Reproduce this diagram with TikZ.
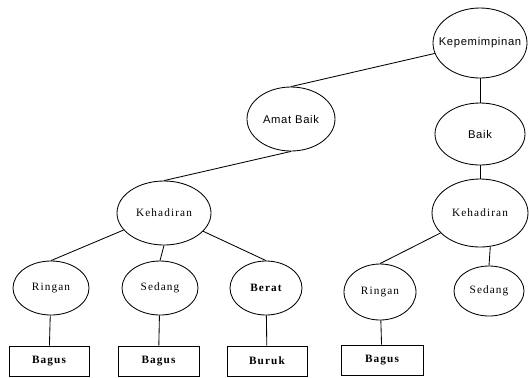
\documentclass[tikz,border=0pt]{standalone}
\usepackage{fontspec}
\setmainfont[LetterSpace=10]{Liberation Serif}
\newfontfamily\sanslabel[LetterSpace=6]{Liberation Sans}
\usetikzlibrary{shapes.geometric}

\begin{document}
\begin{tikzpicture}[font=\fontsize{8}{9}\selectfont]
\useasboundingbox (0, 0) rectangle (13.225, -9.425);
\begin{scope}[every node/.style={semithick,inner xsep=-0.3cm,inner ysep=0pt}]
    \node (1) at (12.0, -1.075) [shape=ellipse,draw=black,minimum width=2.35cm,minimum height=1.75cm] {\sanslabel Kepemimpinan};

    \node (2) at (7.275, -2.975) [shape=ellipse,draw=black,minimum width=2.2cm,minimum height=1.6cm] {\sanslabel Amat Baik};
    \node (3) at (12.0, -3.35) [shape=ellipse,draw=black,minimum width=2.25cm,minimum height=1.55cm] {\sanslabel Baik};

    \node (4) at (4.1, -5.325) [shape=ellipse,draw=black,minimum width=2.35cm,minimum height=1.6cm] {Kehadiran};
    \node (5) at (12.0, -5.325) [shape=ellipse,draw=black,minimum width=2.4cm,minimum height=1.7cm] {Kehadiran};

    \node (6) at (1.275, -7.2) [shape=ellipse,draw=black,minimum width=1.9cm,minimum height=1.35cm] {Ringan};
    \node (7) at (4.0, -7.2) [shape=ellipse,draw=black,minimum width=1.9cm,minimum height=1.35cm] {Sedang};
    \node (8) at (6.65, -7.2) [shape=ellipse,draw=black,minimum width=1.8cm,minimum height=1.35cm] {\bfseries Berat};

    \node (9) at (9.5, -7.3) [shape=ellipse,draw=black,minimum width=1.8cm,minimum height=1.4cm] {Ringan};
    \node (10) at (12.225, -7.275) [shape=ellipse,draw=black,minimum width=1.75cm,minimum height=1.25cm] {Sedang};

    \node (bagus1) at (1.225, -9.025) [shape=rectangle,draw=black,minimum width=2.0cm,minimum height=0.75cm] {\bfseries Bagus};
    \node (bagus2) at (3.9625, -9.025) [shape=rectangle,draw=black,minimum width=2.025cm,minimum height=0.75cm] {\bfseries Bagus};
    \node (buruk) at (6.675, -9.025) [shape=rectangle,draw=black,minimum width=2.0cm,minimum height=0.75cm] {\bfseries Buruk};
    \node (bagus3) at (9.55, -9.0) [shape=rectangle,draw=black,minimum width=2.05cm,minimum height=0.75cm] {\bfseries Bagus};
\end{scope}

\begin{scope}[every edge/.style={draw=black,semithick}]
    \path (1) edge (2.north);
    \path (1.south) edge (3.north);

    \path (2.south) edge (4.north);
    \path (3.south) edge (5.north);

    \path (4) edge (6.north);
    \path (4.south) edge (7.north);
    \path (4) edge (8.north);

    \path (5) edge (9.north);
    \path (5.-73) edge (10.north);

    \path (6) edge (bagus1);
    \path (7) edge (bagus2);
    \path (8) edge (buruk);
    \path (9) edge (bagus3);
\end{scope}
\end{tikzpicture}
\end{document}
